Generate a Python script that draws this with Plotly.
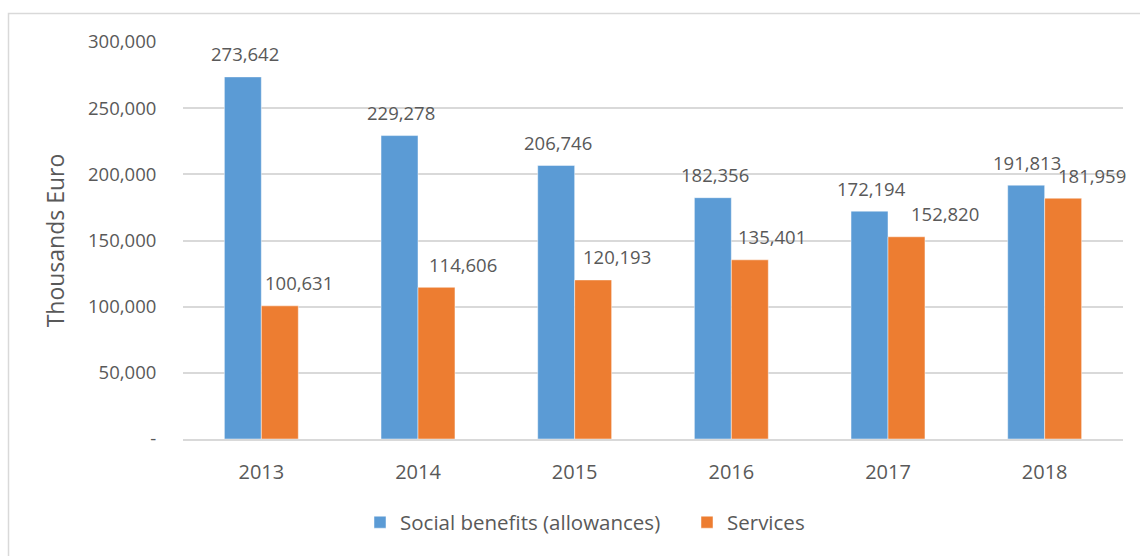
import plotly.graph_objects as go

years = ["2013", "2014", "2015", "2016", "2017", "2018"]
social_benefits = [273642, 229278, 206746, 182356, 172194, 191813]
services = [100631, 114606, 120193, 135401, 152820, 181959]
y_tickvals = [0, 50000, 100000, 150000, 200000, 250000, 300000]
y_ticktext = ["-", "50,000", "100,000", "150,000", "200,000", "250,000", "300,000"]

series_names = ["Social benefits (allowances)", "Services"]
colors = ["#5B9BD5", "#ED7D31"]
FONT = "Open Sans"
GREY = "#595959"

# label offsets (pixels) relative to category centre, per series
label_xshift = [[-16.5, -17.5, -16.5, -16.5, -17, -17.5],
                [37.5, 45, 42.5, 41, 56.5, 47.5]]

fig = go.Figure()
for name, vals, col in zip(series_names, [social_benefits, services], colors):
    fig.add_trace(go.Bar(
        x=years, y=vals, name=name,
        marker=dict(color=col, line=dict(color="rgba(255,255,255,0.6)", width=0.8)),
    ))

annotations = []
for si, vals in enumerate([social_benefits, services]):
    for i, v in enumerate(vals):
        annotations.append(dict(
            x=i, y=v, xref="x", yref="y", text=f"{v:,}", showarrow=False,
            xshift=label_xshift[si][i], yshift=23, yanchor="middle",
            font=dict(family=FONT, size=18.5, color=GREY),
        ))

fig.update_layout(
    width=1140, height=556,
    margin=dict(l=183, r=17, t=42, b=117),
    paper_bgcolor="white", plot_bgcolor="white",
    barmode="group", bargap=0.528, bargroupgap=0,
    font=dict(family=FONT, size=18, color=GREY),
    showlegend=True,
    legend=dict(orientation="h", x=(360 - 183) / 940, xanchor="left",
                y=-0.21, yanchor="middle",
                font=dict(family=FONT, size=20.5, color=GREY),
                itemwidth=30, traceorder="normal",
                entrywidth=282, entrywidthmode="pixels"),
    annotations=annotations,
    shapes=[dict(type="rect", xref="paper", yref="paper",
                 x0=(8.5 - 183) / 940, x1=(1160 - 183) / 940,
                 y0=(439 - 570) / 397, y1=1 + (42 - 13.5) / 397,
                 line=dict(color="#D9D9D9", width=1.5), layer="below")],
)
fig.update_xaxes(
    type="category", categoryorder="array", categoryarray=years,
    range=[-0.5, len(years) - 0.5],
    showgrid=False, showline=True, linecolor="#D9D9D9", linewidth=2,
    ticks="outside", ticklen=14, tickcolor="rgba(0,0,0,0)",
    tickfont=dict(family=FONT, size=20, color=GREY),
)
fig.update_yaxes(
    range=[0, 300000], tickvals=y_tickvals, ticktext=y_ticktext,
    showgrid=True, gridcolor="#D9D9D9", gridwidth=1.5, zeroline=False,
    showline=False, ticks="outside", ticklen=22, tickcolor="rgba(0,0,0,0)",
    tickfont=dict(family=FONT, size=18.5, color=GREY),
    title=dict(text="Thousands Euro", font=dict(family=FONT, size=23, color=GREY), standoff=16),
)
fig.write_html("out.html")
